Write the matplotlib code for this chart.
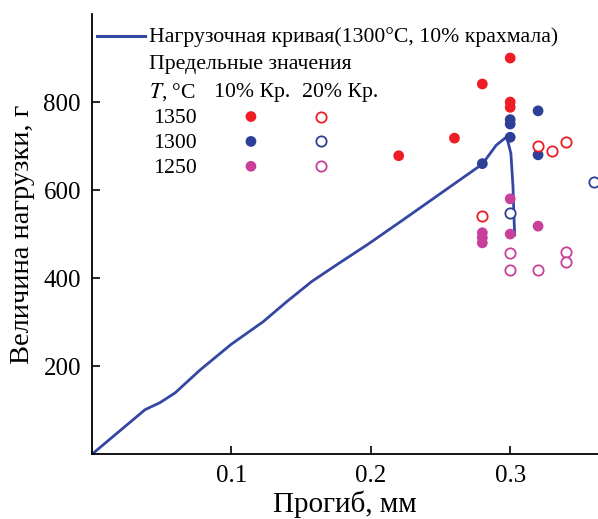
import matplotlib.pyplot as plt

plt.rcParams['font.family'] = ['Liberation Serif', 'DejaVu Serif']
plt.rcParams['mathtext.fontset'] = 'stix'

# load curve (1300 C, 10% starch)
curve_x = [0.0, 0.038, 0.0487, 0.0595, 0.0774, 0.1, 0.1228, 0.1395, 0.1575, 0.1754,
           0.198, 0.223, 0.28, 0.290, 0.2975, 0.3005, 0.302, 0.3027, 0.3032]
curve_y = [0, 101, 117, 139, 191, 250, 301, 346, 392, 430,
           477, 532, 659, 702, 721, 683, 608, 539, 498]

# limit values: T = 1350, 1300, 1250; 10% and 20% starch
x1350_10 = [0.30, 0.28, 0.30, 0.30, 0.26, 0.22]
y1350_10 = [900, 841, 800, 788, 718, 678]
x1350_20 = [0.32, 0.33, 0.34, 0.28]
y1350_20 = [700, 689, 709, 540]

x1300_10 = [0.32, 0.30, 0.30, 0.30, 0.28, 0.32]
y1300_10 = [780, 760, 750, 720, 660, 680]
x1300_20 = [0.36, 0.30]
y1300_20 = [618, 548]

x1250_10 = [0.30, 0.30, 0.28, 0.28, 0.28, 0.32]
y1250_10 = [580, 500, 503, 492, 480, 518]
x1250_20 = [0.30, 0.30, 0.32, 0.34, 0.34]
y1250_20 = [457, 418, 418, 459, 437]

temps = ['1350', '1300', '1250']
colors = ['#ee1c25', '#2e3f97', '#c8409a']
curve_color = '#3347a3'

fig = plt.figure(figsize=(5.98, 5.19), dpi=100)
ax = fig.add_axes([0.154, 0.125, 0.846, 0.848])

ax.plot(curve_x, curve_y, color=curve_color, linewidth=2.0, zorder=2)

filled = [(x1350_10, y1350_10), (x1300_10, y1300_10), (x1250_10, y1250_10)]
hollow = [(x1350_20, y1350_20), (x1300_20, y1300_20), (x1250_20, y1250_20)]
for (xs, ys), c in zip(filled, colors):
    ax.scatter(xs, ys, s=60, color=c, edgecolors='none', zorder=3, clip_on=False)
for (xs, ys), c in zip(hollow, colors):
    ax.scatter(xs, ys, s=55, facecolors='white', edgecolors=c, linewidths=1.3,
               zorder=3, clip_on=False)

ax.set_xlim(0, 0.363)
ax.set_ylim(0, 1000)
ax.set_xticks([0.1, 0.2, 0.3])
ax.set_xticklabels(['0.1', '0.2', '0.3'])
ax.set_yticks([200, 400, 600, 800])
ax.tick_params(direction='in', length=6, width=1.2, labelsize=18, pad=8)
ax.spines['top'].set_visible(False)
ax.spines['right'].set_visible(False)
ax.spines['left'].set_linewidth(1.3)
ax.spines['bottom'].set_linewidth(1.3)

ax.set_xlabel('Прогиб, мм', fontsize=21, labelpad=2)
ax.set_ylabel('Величина нагрузки, г', fontsize=20.5, labelpad=6)

# hand-made legend
t = ax.transAxes
fs = 15.7
ax.plot([0.010, 0.105], [0.950, 0.950], color=curve_color, linewidth=2.2, transform=t)
ax.text(0.113, 0.947, 'Нагрузочная кривая(1300°C, 10% крахмала)', fontsize=fs,
        va='center', transform=t)
ax.text(0.113, 0.886, 'Предельные значения', fontsize=fs, va='center', transform=t)
ax.text(0.113, 0.822, r'$T$, °C', fontsize=fs, va='center', transform=t)
ax.text(0.241, 0.822, '10% Кр.', fontsize=fs, va='center', transform=t)
ax.text(0.415, 0.822, '20% Кр.', fontsize=fs, va='center', transform=t)
for i, (lab, c) in enumerate(zip(temps, colors)):
    yy = 0.767 - i * 0.0565
    ax.text(0.121, yy - 0.004, lab, fontsize=fs, va='center', transform=t)
    ax.scatter([0.314], [yy], s=60, color=c, edgecolors='none', transform=t)
    ax.scatter([0.453], [yy], s=55, facecolors='white', edgecolors=c,
               linewidths=1.3, transform=t)

fig.savefig('out.png', dpi=100)
